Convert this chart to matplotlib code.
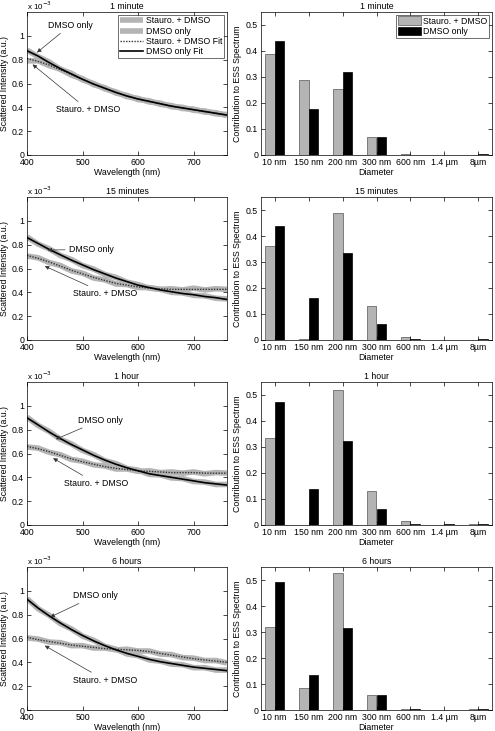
import matplotlib
matplotlib.use("Agg")
import matplotlib.pyplot as plt
import numpy as np

plt.rcParams['font.family'] = ['Liberation Sans', 'DejaVu Sans']
FS = 6.3
plt.rcParams['font.size'] = FS

# ---------------- data ----------------
wavelength = [400, 420, 440, 460, 480, 500, 520, 540, 560, 580, 600,
              620, 640, 660, 680, 700, 720, 740, 760]

titles = ["1 minute", "15 minutes", "1 hour", "6 hours"]

# fits (x 1e-3)
dmso_fit_1min = [0.875, 0.83, 0.775, 0.725, 0.68, 0.635, 0.595, 0.56, 0.525, 0.495, 0.47,
                 0.45, 0.43, 0.41, 0.395, 0.38, 0.365, 0.35, 0.335]
stauro_fit_1min = [0.81, 0.785, 0.755, 0.715, 0.675, 0.635, 0.595, 0.56, 0.525, 0.495, 0.47,
                   0.45, 0.43, 0.41, 0.395, 0.38, 0.365, 0.35, 0.335]
dmso_fit_15min = [0.86, 0.81, 0.76, 0.715, 0.67, 0.63, 0.59, 0.555, 0.52, 0.49, 0.46,
                  0.44, 0.42, 0.405, 0.39, 0.38, 0.365, 0.355, 0.34]
stauro_fit_15min = [0.71, 0.685, 0.655, 0.62, 0.585, 0.555, 0.525, 0.5, 0.475, 0.46, 0.445,
                    0.435, 0.43, 0.425, 0.425, 0.425, 0.425, 0.425, 0.425]
dmso_fit_1h = [0.9, 0.84, 0.78, 0.725, 0.675, 0.63, 0.585, 0.545, 0.51, 0.48, 0.455,
               0.43, 0.415, 0.4, 0.385, 0.37, 0.355, 0.345, 0.335]
stauro_fit_1h = [0.66, 0.64, 0.615, 0.585, 0.555, 0.53, 0.51, 0.49, 0.475, 0.465, 0.455,
                 0.45, 0.445, 0.44, 0.44, 0.44, 0.435, 0.435, 0.435]
dmso_fit_6h = [0.93, 0.855, 0.79, 0.73, 0.675, 0.625, 0.58, 0.54, 0.505, 0.475, 0.45,
               0.425, 0.405, 0.39, 0.375, 0.36, 0.35, 0.34, 0.33]
stauro_fit_6h = [0.61, 0.59, 0.575, 0.56, 0.545, 0.535, 0.525, 0.515, 0.51, 0.505, 0.5,
                 0.49, 0.475, 0.46, 0.445, 0.43, 0.42, 0.41, 0.4]

# measured data (x 1e-3), slightly noisy
dmso_data_1min = [0.88, 0.825, 0.78, 0.72, 0.685, 0.63, 0.6, 0.555, 0.53, 0.49, 0.475,
                  0.445, 0.435, 0.405, 0.4, 0.375, 0.37, 0.345, 0.34]
stauro_data_1min = [0.79, 0.79, 0.75, 0.72, 0.67, 0.64, 0.59, 0.565, 0.52, 0.5, 0.465,
                    0.455, 0.425, 0.415, 0.39, 0.385, 0.36, 0.355, 0.33]
dmso_data_15min = [0.865, 0.805, 0.765, 0.71, 0.675, 0.625, 0.595, 0.55, 0.525, 0.485, 0.465,
                   0.435, 0.425, 0.4, 0.395, 0.375, 0.37, 0.35, 0.345]
stauro_data_15min = [0.705, 0.69, 0.65, 0.625, 0.58, 0.56, 0.52, 0.505, 0.47, 0.465, 0.44,
                     0.44, 0.425, 0.43, 0.42, 0.435, 0.42, 0.43, 0.425]
dmso_data_1h = [0.905, 0.835, 0.785, 0.72, 0.68, 0.625, 0.59, 0.54, 0.515, 0.475, 0.46,
                0.425, 0.42, 0.395, 0.39, 0.365, 0.36, 0.34, 0.34]
stauro_data_1h = [0.655, 0.645, 0.61, 0.59, 0.55, 0.535, 0.505, 0.495, 0.47, 0.47, 0.45,
                  0.455, 0.44, 0.445, 0.435, 0.445, 0.43, 0.44, 0.435]
dmso_data_6h = [0.935, 0.85, 0.795, 0.725, 0.68, 0.62, 0.585, 0.535, 0.51, 0.47, 0.455,
                0.42, 0.41, 0.385, 0.38, 0.355, 0.355, 0.335, 0.335]
stauro_data_6h = [0.605, 0.595, 0.57, 0.565, 0.54, 0.54, 0.52, 0.52, 0.505, 0.51, 0.495,
                  0.495, 0.47, 0.465, 0.44, 0.435, 0.415, 0.415, 0.395]

dmso_fits = [dmso_fit_1min, dmso_fit_15min, dmso_fit_1h, dmso_fit_6h]
stauro_fits = [stauro_fit_1min, stauro_fit_15min, stauro_fit_1h, stauro_fit_6h]
dmso_datas = [dmso_data_1min, dmso_data_15min, dmso_data_1h, dmso_data_6h]
stauro_datas = [stauro_data_1min, stauro_data_15min, stauro_data_1h, stauro_data_6h]

diameters = ["10 nm", "150 nm", "200 nm", "300 nm", "600 nm", "1.4 µm", "8µm"]
stauro_contrib_1min = [0.39, 0.287, 0.252, 0.071, 0.002, 0.0, 0.0]
dmso_contrib_1min = [0.437, 0.178, 0.318, 0.071, 0.0, 0.0, 0.002]
stauro_contrib_15min = [0.361, 0.005, 0.487, 0.132, 0.013, 0.0, 0.0]
dmso_contrib_15min = [0.439, 0.162, 0.334, 0.06, 0.003, 0.0, 0.003]
stauro_contrib_1h = [0.334, 0.0, 0.521, 0.13, 0.015, 0.0, 0.002]
dmso_contrib_1h = [0.474, 0.138, 0.325, 0.062, 0.002, 0.002, 0.002]
stauro_contrib_6h = [0.321, 0.086, 0.528, 0.058, 0.004, 0.0, 0.003]
dmso_contrib_6h = [0.493, 0.133, 0.314, 0.058, 0.003, 0.0, 0.002]

stauro_contribs = [stauro_contrib_1min, stauro_contrib_15min, stauro_contrib_1h, stauro_contrib_6h]
dmso_contribs = [dmso_contrib_1min, dmso_contrib_15min, dmso_contrib_1h, dmso_contrib_6h]

# annotation anchors: (text xy, arrow target xy) in data units
dmso_ann = [((438, 1.09), (418, 0.86)), ((476, 0.76), (437, 0.755)),
            ((492, 0.88), (452, 0.72)), ((483, 0.96), (442, 0.78))]
stauro_ann = [((452, 0.38), (410, 0.76)), ((483, 0.39), (432, 0.62)),
              ((467, 0.35), (447, 0.56)), ((483, 0.25), (432, 0.54))]

# ---------------- figure ----------------
W, H = 495, 731
fig = plt.figure(figsize=(W / 100, H / 100), dpi=100)

def px_axes(x0, y0, x1, y1):
    return fig.add_axes([x0 / W, 1 - y1 / H, (x1 - x0) / W, (y1 - y0) / H])

gray = '#b4b4b4'
tops = [12, 197, 382, 567]
ph = 143
arrow_kw = dict(arrowstyle='-|>', color='#333333', lw=0.5, mutation_scale=6,
                shrinkA=1, shrinkB=0)

for i in range(4):
    t = tops[i]
    axL = px_axes(27, t, 227, t + ph)
    axR = px_axes(261, t, 492, t + ph)

    # left spectra
    l1, = axL.plot(wavelength, stauro_datas[i], color=gray, lw=4, solid_capstyle='butt',
                   label='Stauro. + DMSO')
    l2, = axL.plot(wavelength, dmso_datas[i], color=gray, lw=4, solid_capstyle='butt',
                   label='DMSO only')
    l3, = axL.plot(wavelength, stauro_fits[i], color='#333333', lw=1.0, ls=(0, (1, 1)),
                   label='Stauro. + DMSO Fit')
    l4, = axL.plot(wavelength, dmso_fits[i], color='black', lw=1.2,
                   label='DMSO only Fit')
    axL.set_xlim(400, 760)
    axL.set_ylim(0, 1.2)
    axL.set_xticks([400, 500, 600, 700])
    axL.set_yticks([0, 0.2, 0.4, 0.6, 0.8, 1.0])
    axL.set_yticklabels(['0', '0.2', '0.4', '0.6', '0.8', '1'])
    axL.set_xlabel('Wavelength (nm)', labelpad=1)
    axL.set_ylabel('Scattered Intensity (a.u.)', labelpad=2)
    axL.set_title(titles[i], fontsize=FS, pad=2)
    axL.text(0.0, 1.0, r'x 10$^{-3}$', transform=axL.transAxes, fontsize=5.8,
             ha='left', va='bottom')
    (tx, ty), (ax_, ay_) = dmso_ann[i]
    axL.annotate('DMSO only', xy=(ax_, ay_), xytext=(tx, ty), fontsize=FS,
                 va='center', ha='left', arrowprops=arrow_kw)
    (tx, ty), (ax_, ay_) = stauro_ann[i]
    axL.annotate('Stauro. + DMSO', xy=(ax_, ay_), xytext=(tx, ty), fontsize=FS,
                 va='center', ha='left', arrowprops=arrow_kw)
    if i == 0:
        axL.legend(handles=[l1, l2, l3, l4], loc='upper right', fontsize=FS,
                   frameon=True, fancybox=False, edgecolor='black',
                   handlelength=2.6, borderpad=0.2, labelspacing=0.15,
                   handletextpad=0.4, borderaxespad=0.3).get_frame().set_linewidth(0.5)

    # right bars
    xpos = np.arange(1, len(diameters) + 1)
    bw = 0.286
    axR.bar(xpos - bw / 2, stauro_contribs[i], width=bw, color=gray,
            edgecolor='#555555', linewidth=0.5, label='Stauro. + DMSO')
    axR.bar(xpos + bw / 2, dmso_contribs[i], width=bw, color='black',
            edgecolor='black', linewidth=0.5, label='DMSO only')
    axR.set_xlim(0.6, 7.4)
    axR.set_ylim(0, 0.55)
    axR.set_xticks(xpos)
    axR.set_xticklabels(diameters)
    axR.set_yticks([0, 0.1, 0.2, 0.3, 0.4, 0.5])
    axR.set_yticklabels(['0', '0.1', '0.2', '0.3', '0.4', '0.5'])
    axR.set_xlabel('Diameter', labelpad=1)
    axR.set_ylabel('Contribution to ESS Spectrum', labelpad=3)
    axR.set_title(titles[i], fontsize=FS, pad=2)
    if i == 0:
        axR.legend(loc='upper right', fontsize=FS, frameon=True, fancybox=False,
                   edgecolor='black', handlelength=2.6, handleheight=1.1,
                   borderpad=0.2, labelspacing=0.15, handletextpad=0.3,
                   borderaxespad=0.3).get_frame().set_linewidth(0.5)

    for ax in (axL, axR):
        ax.tick_params(direction='in', top=True, right=True, length=3, width=0.5,
                       labelsize=FS, pad=2)
        for s in ax.spines.values():
            s.set_linewidth(0.5)

fig.savefig('out.png', dpi=100)
